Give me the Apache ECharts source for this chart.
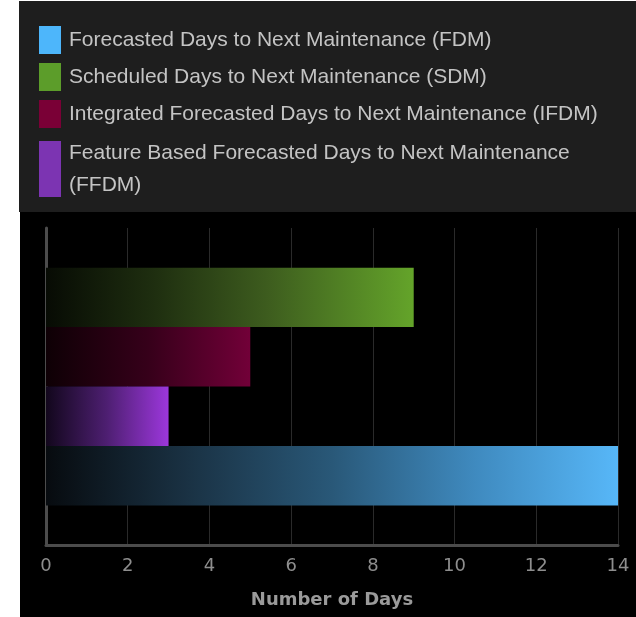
<!DOCTYPE html>
<html>
<head>
<meta charset="utf-8">
<script src="https://cdn.jsdelivr.net/npm/echarts@6/dist/echarts.min.js"></script>
<style>
  html, body { margin: 0; padding: 0; background: #ffffff; }
  #chart { width: 636px; height: 617px; }
</style>
</head>
<body>
<div id="chart"></div>
<script>
// Maintenance forecast: days until next maintenance, per method
const seriesNames = [
  'Forecasted Days to Next Maintenance (FDM)',
  'Scheduled Days to Next Maintenance (SDM)',
  'Integrated Forecasted Days to Next Maintenance (IFDM)',
  'Feature Based Forecasted Days to Next Maintenance (FFDM)'
];
const fdmDays = [14];
const sdmDays = [9];
const ifdmDays = [5];
const ffdmDays = [3];
const categories = [''];
const xTicks = [0, 2, 4, 6, 8, 10, 12, 14];

const solid = ['#4db6fb', '#5c9d2a', '#7a0036', '#7c34b2'];

function grad(stops) {
  return new echarts.graphic.LinearGradient(0, 0, 1, 0,
    stops.map(s => ({ offset: s[0], color: s[1] })));
}
const fills = [
  grad([[0, '#070b0f'], [0.25, '#1a3244'], [0.5, '#295878'], [0.75, '#3f8abf'], [1, '#57b7f8']]),
  grad([[0, '#070b04'], [0.3, '#1f2f10'], [0.6, '#3d5c1e'], [1, '#64a42a']]),
  grad([[0, '#0e0005'], [0.5, '#36001a'], [1, '#720038']]),
  grad([[0, '#12071c'], [0.5, '#4e1f72'], [1, '#9c37dc']])
];

const legendText = {
  color: '#c4c4c4',
  fontFamily: 'Liberation Sans, Arial, sans-serif',
  fontSize: 21,
  padding: [0, 0, 0, 3]
};

function legendFor(i, top, h, extra) {
  return Object.assign({
    show: true,
    data: [{ name: seriesNames[i], itemStyle: { color: solid[i] } }],
    left: 39,
    top: top,
    orient: 'vertical',
    icon: 'rect',
    itemWidth: 22,
    itemHeight: h,
    padding: 0,
    textStyle: legendText,
    inactiveColor: '#555'
  }, extra || {});
}

const chart = echarts.init(document.getElementById('chart'), null, { renderer: 'canvas' });

function barSeries(i, data) {
  return {
    name: seriesNames[i], type: 'bar', data: data, color: solid[i],
    itemStyle: { color: fills[i] }, barGap: '0%', barCategoryGap: '25%'
  };
}

chart.setOption({
  backgroundColor: '#ffffff',
  animation: false,
  graphic: [
    { type: 'rect', z: -10, shape: { x: 19, y: 1, width: 617, height: 211 }, style: { fill: '#1e1e1e' } },
    { type: 'rect', z: -10, shape: { x: 20, y: 212, width: 616, height: 405 }, style: { fill: '#000000' } }
  ],
  legend: [
    legendFor(0, 26, 28),
    legendFor(1, 63, 28),
    legendFor(2, 100, 28),
    legendFor(3, 137, 56, {
      formatter: function () {
        return 'Feature Based Forecasted Days to Next Maintenance\n(FFDM)';
      },
      textStyle: Object.assign({}, legendText, { lineHeight: 32 })
    })
  ],
  grid: { left: 46, right: 18, top: 228, bottom: 72, containLabel: false },
  xAxis: {
    type: 'value',
    min: 0,
    max: 14,
    interval: 2,
    name: 'Number of Days',
    nameLocation: 'middle',
    nameGap: 46,
    nameTextStyle: { color: '#9a9a9a', fontFamily: 'DejaVu Sans', fontSize: 18, fontWeight: 'bold' },
    axisLine: { show: true, lineStyle: { color: '#4c4c4c', width: 3 } },
    axisTick: { show: false },
    axisLabel: {
      color: '#8e8e8e', fontFamily: 'DejaVu Sans', fontSize: 18, margin: 12,
      formatter: v => (xTicks.indexOf(v) >= 0 ? String(v) : '')
    },
    splitLine: { show: true, lineStyle: { color: '#2a2a2a', width: 1 } }
  },
  yAxis: {
    type: 'category',
    data: categories,
    axisLine: { show: true, lineStyle: { color: '#4c4c4c', width: 3 } },
    axisTick: { show: false },
    axisLabel: { show: false },
    splitLine: { show: false }
  },
  // listed top to bottom: SDM, IFDM, FFDM, FDM
  series: [
    barSeries(1, sdmDays),
    barSeries(2, ifdmDays),
    barSeries(3, ffdmDays),
    barSeries(0, fdmDays)
  ]
});
</script>
</body>
</html>
